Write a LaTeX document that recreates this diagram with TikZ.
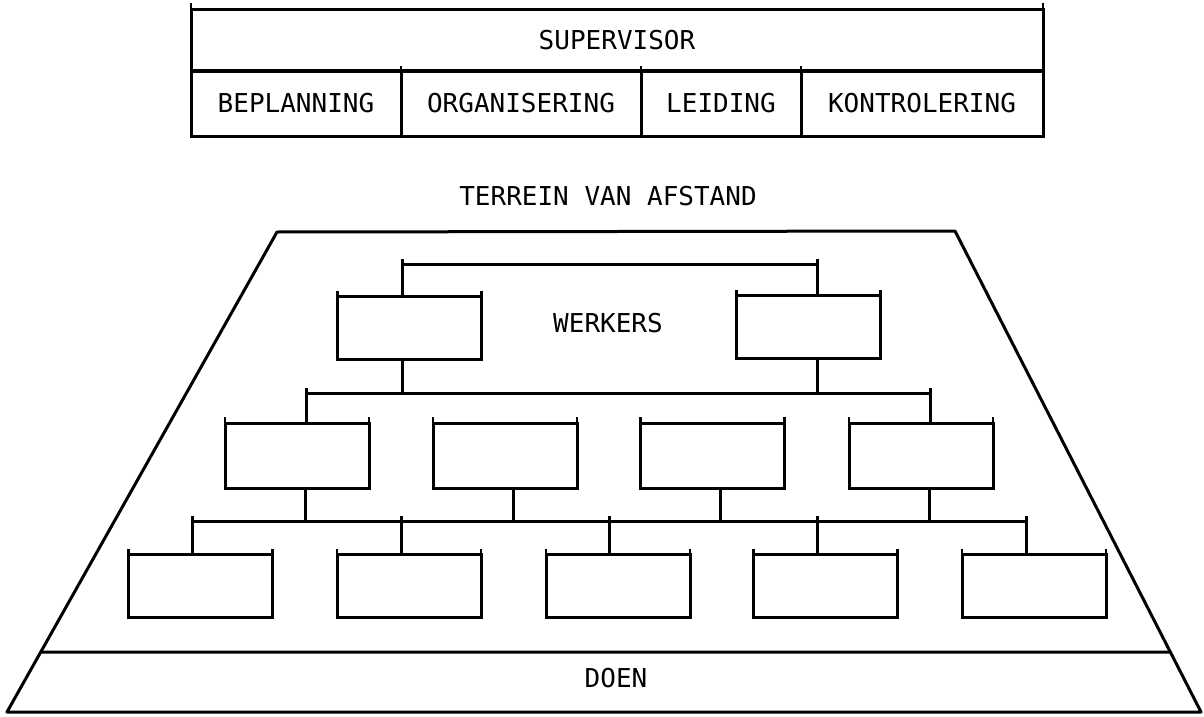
\documentclass[tikz,border=0pt]{standalone}
\usepackage{fontspec}
\newfontfamily\plotfont{DejaVu Sans Mono}
\newcommand\plotlabel{\plotfont\fontsize{26}{26}\selectfont}
\usetikzlibrary{calc}
\begin{document}
\begin{tikzpicture}[x=1pt,y=-1pt,line width=3pt,
  cell/.style={draw,rectangle,inner sep=0pt,outer sep=0pt,font=\plotlabel},
  orgbox/.style={draw,rectangle,inner sep=0pt,outer sep=0pt,minimum width=144pt,minimum height=63pt},
  txt/.style={inner sep=0pt,outer sep=0pt,font=\plotlabel},
  ear/.style={line width=2.6pt}]
\useasboundingbox (0,0) rectangle (1204,717);

% ---- top table ----
\node[cell,minimum width=852pt,minimum height=61pt] (sup) at (617,40.5) {SUPERVISOR};
\node[cell,minimum width=210pt,minimum height=65pt] (bep) at (296,103.5) {BEPLANNING};
\node[cell,minimum width=240pt,minimum height=65pt] (org) at (521,103.5) {ORGANISERING};
\node[cell,minimum width=160pt,minimum height=65pt] (lei) at (721,103.5) {LEIDING};
\node[cell,minimum width=242pt,minimum height=65pt] (kon) at (922,103.5) {KONTROLERING};
\draw[ear] (sup.north west) -- ++(0,-7) (sup.north east) -- ++(0,-7);
\foreach \c in {bep,org,lei}{\draw[ear] (\c.north east) -- ++(0,-5);}

% ---- labels ----
\node[txt] (terrein) at (608,196) {TERREIN VAN AFSTAND};

% ---- trapezoid ----
\coordinate (tl) at (277,232);
\coordinate (tr) at (955,231);
\coordinate (br) at (1201,712);
\coordinate (bl) at (7,712);
\draw[line join=round] (tl) -- (tr) -- (br) -- (bl) -- cycle;
\coordinate (ml) at ($(tl)!0.875!(bl)$);
\coordinate (mr) at ($(tr)!0.8753!(br)$);
\draw (ml) -- (mr);
\node[txt] (doen) at (616,678) {DOEN};

% ---- org boxes ----
\node[orgbox] (b1) at (409.5,328) {};
\node[orgbox] (b2) at (808.5,327) {};
\node[txt] (werkers) at (608,323) {WERKERS};
\foreach \n/\x in {b3/297,b4/505,b5/712.5,b6/921}{
  \node[orgbox,minimum height=65pt] (\n) at (\x,455.5) {};}
\foreach \n/\x in {b7/200.5,b8/409,b9/618,b10/825.5,b11/1034}{
  \node[orgbox] (\n) at (\x,586) {};}
\foreach \n in {b1,b2,b3,b4,b5,b6,b7,b8,b9,b10,b11}{
  \draw[ear] (\n.north west) -- ++(0,-6) (\n.north east) -- ++(0,-6);}

% ---- level 1 bar ----
\coordinate (t1) at (402,264);
\coordinate (t2) at (817,264);
\draw (t1) -- (t2);
\draw ([yshift=5pt]t1) -- (t1 |- b1.north);
\draw ([yshift=5pt]t2) -- (t2 |- b2.north);

% ---- level 2 bar ----
\coordinate (m1) at (306,393);
\coordinate (m2) at (930,393);
\draw (t1 |- b1.south) -- (t1 |- m1);
\draw (t2 |- b2.south) -- (t2 |- m1);
\draw (m1) -- (m2);
\draw ([yshift=5pt]m1) -- (m1 |- b3.north);
\draw ([yshift=5pt]m2) -- (m2 |- b6.north);

% ---- level 3 bar ----
\coordinate (u1) at (192,521);
\coordinate (u2) at (401,521);
\coordinate (u3) at (609,521);
\coordinate (u4) at (817,521);
\coordinate (u5) at (1026,521);
\draw (u1) -- (u5);
\foreach \n in {b3,b4,b5,b6}{
  \draw ([xshift=8pt]\n.south) -- ([xshift=8pt]\n.south |- u1);}
\foreach \u/\n in {u1/b7,u2/b8,u3/b9,u4/b10,u5/b11}{
  \draw ([yshift=5pt]\u) -- (\u |- \n.north);}
\end{tikzpicture}
\end{document}
